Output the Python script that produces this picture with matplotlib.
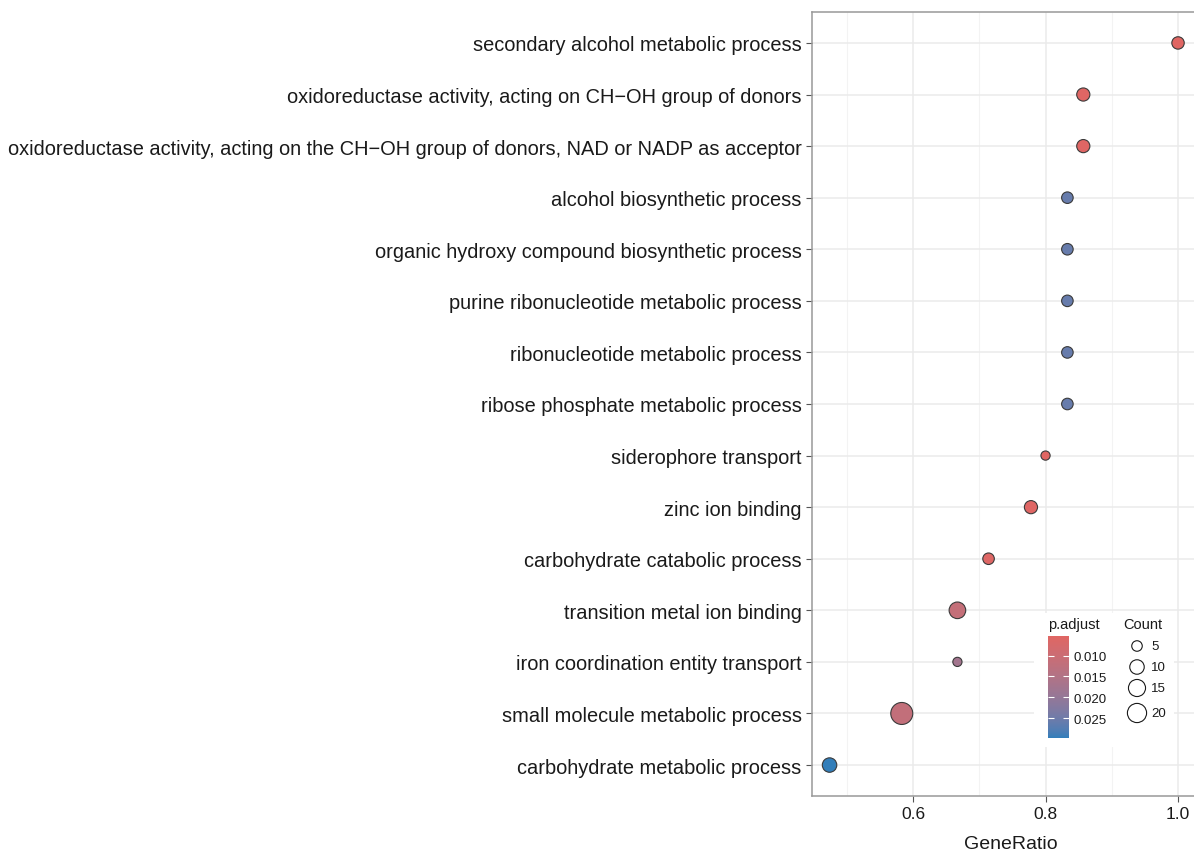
import numpy as np
import matplotlib
matplotlib.use("Agg")
import matplotlib.pyplot as plt
from matplotlib.colors import ListedColormap, Normalize, to_rgb
from matplotlib.patches import Rectangle

plt.rcParams['font.family'] = ['Liberation Sans', 'DejaVu Sans']

# enrichment results, top row first
terms = [
    "secondary alcohol metabolic process",
    "oxidoreductase activity, acting on CH\u2212OH group of donors",
    "oxidoreductase activity, acting on the CH\u2212OH group of donors, NAD or NADP as acceptor",
    "alcohol biosynthetic process",
    "organic hydroxy compound biosynthetic process",
    "purine ribonucleotide metabolic process",
    "ribonucleotide metabolic process",
    "ribose phosphate metabolic process",
    "siderophore transport",
    "zinc ion binding",
    "carbohydrate catabolic process",
    "transition metal ion binding",
    "iron coordination entity transport",
    "small molecule metabolic process",
    "carbohydrate metabolic process",
]
gene_ratio = [1.0, 0.857, 0.857, 0.833, 0.833, 0.833, 0.833, 0.833,
              0.8, 0.778, 0.714, 0.667, 0.667, 0.583, 0.474]
counts = [7, 8, 8, 6, 6, 6, 6, 6, 4, 8, 6, 14, 4, 28, 10]
p_adjust = [0.0053, 0.0055, 0.0055, 0.0258, 0.0258, 0.0258, 0.0258, 0.0258,
            0.0054, 0.0056, 0.0058, 0.0115, 0.0175, 0.0118, 0.0298]

legend_counts = [5, 10, 15, 20]
cbar_ticks = [0.010, 0.015, 0.020, 0.025]

W, H = 1194, 853
fig = plt.figure(figsize=(W / 100, H / 100), dpi=100)


def size_of(c):
    d = 6.0 + 3.2 * np.sqrt(max(c - 3, 0))   # diameter in px
    return (d * 0.72) ** 2


# gradient interpolated in CIE Lab, like ggplot's scale_colour_gradient
def rgb2lab(rgb):
    rgb = np.asarray(rgb, float)
    lin = np.where(rgb > 0.04045, ((rgb + 0.055) / 1.055) ** 2.4, rgb / 12.92)
    M = np.array([[0.4124, 0.3576, 0.1805],
                  [0.2126, 0.7152, 0.0722],
                  [0.0193, 0.1192, 0.9505]])
    xyz = M @ lin / np.array([0.95047, 1.0, 1.08883])
    f = np.where(xyz > 0.008856, np.cbrt(xyz), 7.787 * xyz + 16 / 116)
    return np.array([116 * f[1] - 16, 500 * (f[0] - f[1]), 200 * (f[1] - f[2])])


def lab2rgb(lab):
    L, a, b = lab
    fy = (L + 16) / 116
    f = np.array([fy + a / 500, fy, fy - b / 200])
    xyz = np.where(f ** 3 > 0.008856, f ** 3, (f - 16 / 116) / 7.787)
    xyz = xyz * np.array([0.95047, 1.0, 1.08883])
    Minv = np.array([[3.2406, -1.5372, -0.4986],
                     [-0.9689, 1.8758, 0.0415],
                     [0.0557, -0.2040, 1.0570]])
    lin = Minv @ xyz
    rgb = np.where(lin > 0.0031308, 1.055 * np.clip(lin, 0, None) ** (1 / 2.4) - 0.055, 12.92 * lin)
    return np.clip(rgb, 0, 1)


lab_lo = rgb2lab(to_rgb("#e06663"))
lab_hi = rgb2lab(to_rgb("#327eba"))
cmap = ListedColormap([lab2rgb(lab_lo + t * (lab_hi - lab_lo)) for t in np.linspace(0, 1, 256)])
norm = Normalize(vmin=min(p_adjust), vmax=max(p_adjust))

# main panel
ax = fig.add_axes([812 / W, 1 - 797 / H, (1210 - 812) / W, (797 - 13) / H])
y = np.arange(len(terms))[::-1] + 1
ax.scatter(gene_ratio, y, s=[size_of(c) for c in counts], c=p_adjust,
           cmap=cmap, norm=norm, edgecolors="#3a3a3a", linewidths=0.8, zorder=3)

ax.set_xlim(0.4475, 0.4475 + (1210 - 812) / 662.5)
ax.set_ylim(0.4, len(terms) + 0.6)
ax.set_yticks(y)
ax.set_yticklabels(terms, fontsize=14.4, color="#1a1a1a")
ax.set_xticks([0.6, 0.8, 1.0])
ax.set_xticklabels(["0.6", "0.8", "1.0"], fontsize=12.5, color="#1a1a1a")
ax.set_xticks([0.5, 0.7, 0.9], minor=True)
ax.tick_params(axis="both", which="major", length=4, width=0.8, color="#555555")
ax.tick_params(axis="x", which="minor", length=0)
ax.grid(True, which="major", color="#ebebeb", linewidth=1.1, zorder=0)
ax.grid(True, which="minor", axis="x", color="#f3f3f3", linewidth=0.8, zorder=0)
ax.set_axisbelow(True)
for sp in ax.spines.values():
    sp.set_color("#999999")
    sp.set_linewidth(1.1)
ax.set_xlabel("GeneRatio", fontsize=14, color="#1a1a1a", labelpad=10)

# legend background
fig.patches.append(Rectangle((1034 / W, 1 - 748 / H), 140 / W, 134 / H,
                             transform=fig.transFigure, facecolor="white",
                             edgecolor="none", zorder=2))

# p.adjust colourbar (low values on top)
cax = fig.add_axes([1048 / W, 1 - 739 / H, 21 / W, 102 / H])
cax.set_zorder(5)
cb = fig.colorbar(plt.cm.ScalarMappable(norm=norm, cmap=cmap), cax=cax)
cb.outline.set_visible(False)
cax.invert_yaxis()
cb.set_ticks(cbar_ticks)
cb.set_ticklabels(["%.3f" % t for t in cbar_ticks])
cax.tick_params(axis="y", direction="in", length=4, width=0.8, color="white",
                labelsize=9.5, labelcolor="#1a1a1a", left=True, right=True, pad=3)
fig.text(1048 / W, 1 - 625 / H, "p.adjust", fontsize=10.5, color="#1a1a1a",
         va="center", ha="left", zorder=6)

# Count size legend
lax = fig.add_axes([1110 / W, 1 - 748 / H, 64 / W, 134 / H])
lax.set_zorder(5)
lax.set_xlim(1110, 1174)
lax.set_ylim(748, 614)
lax.axis("off")
fig.text(1123 / W, 1 - 625 / H, "Count", fontsize=10.5, color="#1a1a1a",
         va="center", ha="left", zorder=6)
for c, yy in zip(legend_counts, [647, 668, 689, 714]):
    lax.scatter([1137], [yy], s=size_of(c), facecolors="none",
                edgecolors="#1a1a1a", linewidths=0.8)
    lax.text(1151, yy, str(c), fontsize=9.5, color="#1a1a1a", va="center", ha="left")

fig.savefig("out.png", dpi=100, facecolor="white")
